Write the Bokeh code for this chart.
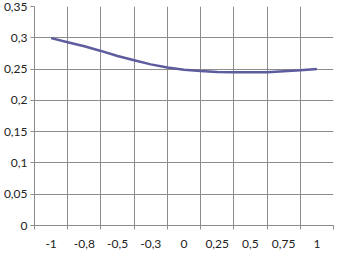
from bokeh.plotting import figure
from bokeh.models import FixedTicker, Range1d
from bokeh.embed import file_html
from bokeh.resources import INLINE

# category positions (x) and values
x_vals = [-1.0, -0.875, -0.75, -0.625, -0.5, -0.375, -0.25, -0.125, 0.0,
          0.125, 0.25, 0.375, 0.5, 0.625, 0.75, 0.875, 1.0]
y_vals = [0.2995, 0.293, 0.2865, 0.279, 0.271, 0.264, 0.2575, 0.2525, 0.249,
          0.247, 0.2455, 0.245, 0.245, 0.245, 0.2465, 0.248, 0.250]

x_ticks = [-1.0, -0.75, -0.5, -0.25, 0.0, 0.25, 0.5, 0.75, 1.0]
x_labels = ["-1", "-0,8", "-0,5", "-0,3", "0", "0,25", "0,5", "0,75", "1"]
x_bounds = [-1.125, -0.875, -0.625, -0.375, -0.125, 0.125, 0.375, 0.625, 0.875, 1.125]

y_ticks = [0.0, 0.05, 0.1, 0.15, 0.2, 0.25, 0.3, 0.35]
y_labels = ["0", "0,05", "0,1", "0,15", "0,2", "0,25", "0,3", "0,35"]

GRID = "#8c8c8c"
FONT = "Lato"

p = figure(width=334, height=250, output_backend="svg", toolbar_location=None,
           x_range=Range1d(-1.125, 1.125), y_range=Range1d(0, 0.35),
           min_border_left=30, min_border_right=1, min_border_top=6,
           min_border_bottom=23)
p.outline_line_color = None
p.background_fill_color = "white"
p.border_fill_color = "white"

p.line(x_vals, y_vals, line_color="#5c5c9e", line_width=2.5)

# x axis
xa = p.xaxis[0]
xa.ticker = FixedTicker(ticks=x_ticks, minor_ticks=x_bounds)
xa.major_label_overrides = {t: l for t, l in zip(x_ticks, x_labels)}
xa.major_tick_line_color = None
xa.major_tick_out = 0
xa.major_tick_in = 0
xa.minor_tick_line_color = GRID
xa.minor_tick_out = 4
xa.minor_tick_in = 0
xa.axis_line_color = GRID
xa.major_label_standoff = 10
xa.major_label_text_font = FONT
xa.major_label_text_font_size = "12px"
xa.major_label_text_color = "#222222"

# y axis
ya = p.yaxis[0]
ya.ticker = FixedTicker(ticks=y_ticks)
ya.major_label_overrides = {t: l for t, l in zip(y_ticks, y_labels)}
ya.major_tick_line_color = GRID
ya.major_tick_out = 4
ya.major_tick_in = 0
ya.minor_tick_line_color = None
ya.axis_line_color = GRID
ya.major_label_standoff = 3
ya.major_label_text_font = FONT
ya.major_label_text_font_size = "12px"
ya.major_label_text_color = "#222222"

# grids
p.xgrid[0].ticker = FixedTicker(ticks=x_bounds)
p.xgrid[0].grid_line_color = GRID
p.ygrid[0].ticker = FixedTicker(ticks=y_ticks)
p.ygrid[0].grid_line_color = GRID

open("out.html", "w").write(file_html(p, INLINE))
